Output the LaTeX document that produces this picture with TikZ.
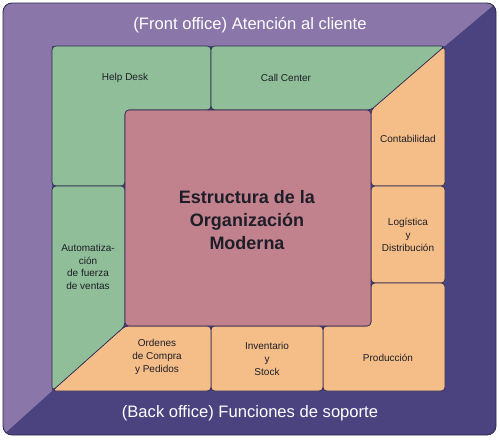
\documentclass[tikz,border=0pt]{standalone}
\usepackage{fontspec}
\setmainfont{Liberation Sans}
\definecolor{lightpurple}{RGB}{138,118,168}
\definecolor{darkpurple}{RGB}{74,67,128}
\definecolor{boxgreen}{RGB}{143,190,152}
\definecolor{boxpink}{RGB}{193,129,141}
\definecolor{boxorange}{RGB}{245,190,136}
\definecolor{edge}{RGB}{45,40,80}
\definecolor{ink}{RGB}{30,30,40}
\begin{document}
\begin{tikzpicture}[x=1pt,y=-1pt,
  piece/.style={draw=edge,line width=0.6pt,rounded corners=4pt},
  lbl/.style={text=ink,align=center,font=\fontsize{10}{12.8}\selectfont,inner sep=0pt},
  title/.style={text=white,font=\fontsize{16.6}{18}\selectfont,inner sep=0pt}]
\useasboundingbox (0,0) rectangle (500,440);
% outer frame
\fill[darkpurple,rounded corners=9pt] (3,3) rectangle (496,435);
\begin{scope}
  \clip[rounded corners=9pt] (3,3) rectangle (496,435);
  \fill[lightpurple] (0,0) -- (499.6,0) -- (445,46) -- (52,391) -- (0,437.7) -- cycle;
\end{scope}
\draw[edge,line width=0.8pt,rounded corners=9pt] (3,3) rectangle (496,435);
% inner background
\fill[darkpurple] (52,46) rectangle (445,391);
% pieces
\draw[piece,fill=boxgreen] (52,46) -- (211,46) -- (211,110) -- (125,110) -- (125,186) -- (52,186) -- cycle;
\draw[piece,fill=boxgreen] (211,46) -- (445,46) -- (371,110) -- (211,110) -- cycle;
\draw[piece,fill=boxorange] (445,46) -- (445,186) -- (371,186) -- (371,110) -- cycle;
\draw[piece,fill=boxorange] (371,186) rectangle (445,283);
\draw[piece,fill=boxorange] (371,283) -- (445,283) -- (445,391) -- (323,391) -- (323,326) -- (371,326) -- cycle;
\draw[piece,fill=boxorange] (211,326) rectangle (323,391);
\draw[piece,fill=boxorange] (125,326) -- (211,326) -- (211,391) -- (52,391) -- cycle;
\draw[piece,fill=boxgreen] (52,186) -- (125,186) -- (125,326) -- (52,391) -- cycle;
\draw[piece,fill=boxpink] (125,110) rectangle (371,326);
% texts
\node[title] (front) at (250,25) {(Front office) Atención al cliente};
\node[title] (back) at (250,413) {(Back office) Funciones de soporte};
\node[lbl] (help) at (125,78) {Help Desk};
\node[lbl] (call) at (286,78) {Call Center};
\node[lbl] (conta) at (408,139) {Contabilidad};
\node[lbl] (logi) at (408,235) {Logística\\y\\Distribución};
\node[lbl] (auto) at (88,267) {Automatiza-\\ción\\de fuerza\\de ventas};
\node[lbl] (orden) at (157,357) {Ordenes\\de Compra\\y Pedidos};
\node[lbl] (inv) at (267,359) {Inventario\\y\\Stock};
\node[lbl] (prod) at (388,358) {Producción};
\node[text=ink,align=center,font=\fontsize{18}{23}\bfseries,inner sep=0pt] (main) at (247,220) {Estructura de la\\Organización\\Moderna};
\end{tikzpicture}
\end{document}
